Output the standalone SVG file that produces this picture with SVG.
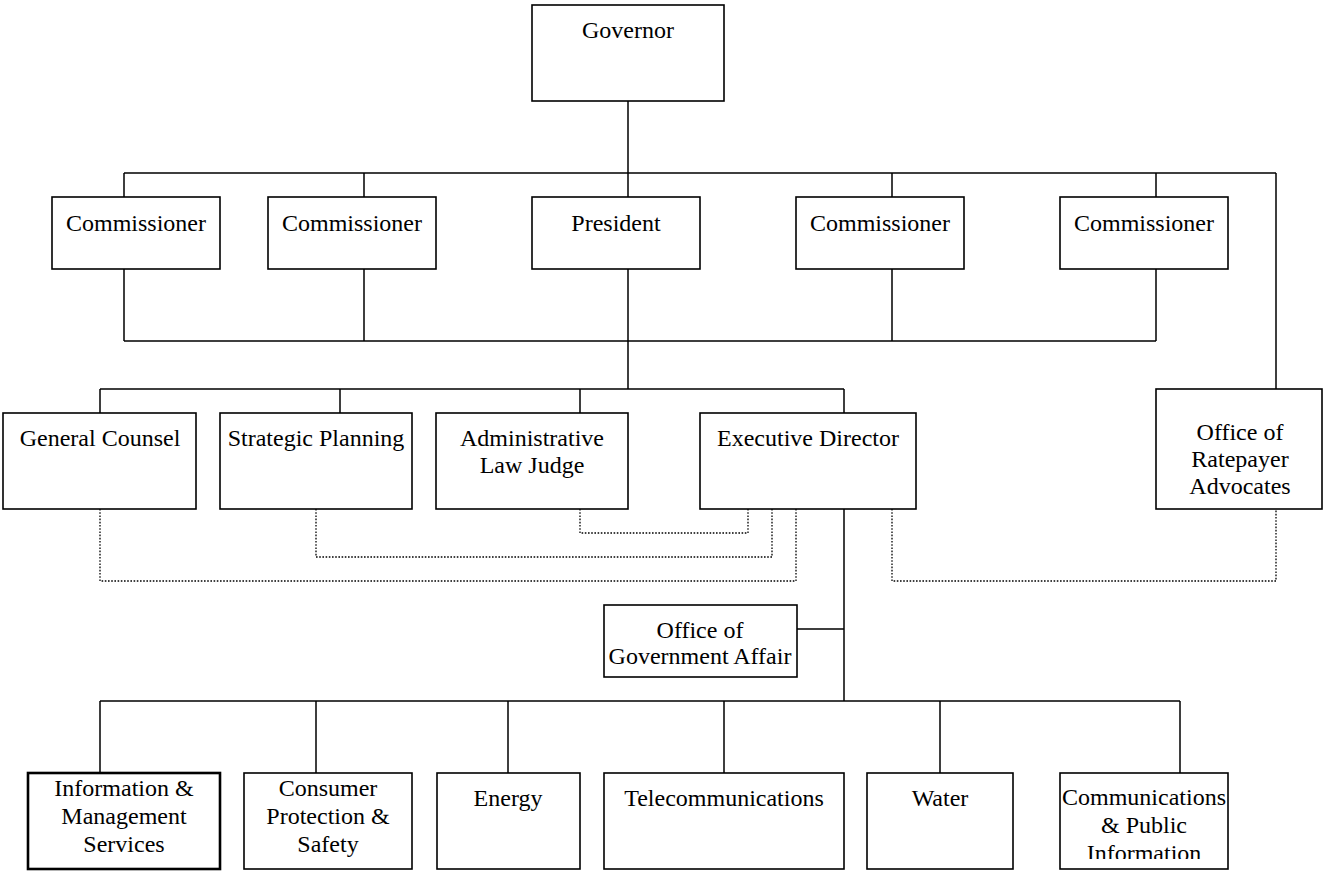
<svg xmlns="http://www.w3.org/2000/svg" width="1323" height="871" viewBox="0 0 1323 871">
<style>
  .box { fill: #fff; stroke: #000; stroke-width: 1.6; }
  .thick { stroke-width: 2.6; }
  .t { font-family: 'Liberation Serif', 'Times New Roman', 'DejaVu Serif', Times, serif; font-size: 24px; fill: #000; text-anchor: middle; }
  .ln { fill: none; stroke: #000; stroke-width: 1.5; }
  .dot { fill: none; stroke: #000; stroke-width: 1.3; stroke-dasharray: 1.6 1.6; }
</style>
<defs>
  <clipPath id="clipComm"><rect x="1060" y="773" width="168" height="86"/></clipPath>
</defs>
<rect width="1323" height="871" fill="#fff"/>
<g id="connectors">
  <path class="ln" d="M628 101V197 M124 173H1276 M124 173V197 M364 173V197 M892 173V197 M1156 173V197 M1276 173V389"/>
  <path class="ln" d="M124 269V341 M364 269V341 M892 269V341 M1156 269V341 M124 341H1156 M628 269V389"/>
  <path class="ln" d="M100 389H844 M100 389V413 M340 389V413 M580 389V413 M844 389V413"/>
  <path class="ln" d="M844 509V701 M797 629H844"/>
  <path class="ln" d="M100 701H1180 M100 701V773 M316 701V773 M508 701V773 M724 701V773 M940 701V773 M1180 701V773"/>
  <path class="dot" d="M748 509V533H580V509"/>
  <path class="dot" d="M772 509V557H316V509"/>
  <path class="dot" d="M796 509V581H100V509"/>
  <path class="dot" d="M892 509V581H1276V509"/>
</g>
<g id="governor"><rect class="box" x="532" y="5" width="192" height="96"/><text class="t" font-family="Liberation Serif, serif" x="628" y="38">Governor</text></g>
<g id="commissioner1"><rect class="box" x="52" y="197" width="168" height="72"/><text class="t" x="136" y="231">Commissioner</text></g>
<g id="commissioner2"><rect class="box" x="268" y="197" width="168" height="72"/><text class="t" x="352" y="231">Commissioner</text></g>
<g id="president"><rect class="box" x="532" y="197" width="168" height="72"/><text class="t" x="616" y="231">President</text></g>
<g id="commissioner3"><rect class="box" x="796" y="197" width="168" height="72"/><text class="t" x="880" y="231">Commissioner</text></g>
<g id="commissioner4"><rect class="box" x="1060" y="197" width="168" height="72"/><text class="t" x="1144" y="231">Commissioner</text></g>
<g id="general-counsel"><rect class="box" x="3" y="413" width="193" height="96"/><text class="t" x="100" y="446">General Counsel</text></g>
<g id="strategic-planning"><rect class="box" x="220" y="413" width="192" height="96"/><text class="t" x="316" y="446">Strategic Planning</text></g>
<g id="alj"><rect class="box" x="436" y="413" width="192" height="96"/><text class="t" x="532" y="446">Administrative</text><text class="t" x="532" y="473">Law Judge</text></g>
<g id="executive-director"><rect class="box" x="700" y="413" width="216" height="96"/><text class="t" x="808" y="446">Executive Director</text></g>
<g id="ratepayer"><rect class="box" x="1156" y="389" width="166" height="120"/><text class="t" x="1240" y="440">Office of</text><text class="t" x="1240" y="467">Ratepayer</text><text class="t" x="1240" y="494">Advocates</text></g>
<g id="gov-affair"><rect class="box" x="604" y="605" width="193" height="72"/><text class="t" x="700" y="638">Office of</text><text class="t" x="700" y="664">Government Affair</text></g>
<g id="ims"><rect class="box thick" x="28" y="773" width="192" height="96"/><text class="t" x="124" y="796">Information &amp;</text><text class="t" x="124" y="824">Management</text><text class="t" x="124" y="852">Services</text></g>
<g id="consumer"><rect class="box" x="244" y="773" width="168" height="96"/><text class="t" x="328" y="796">Consumer</text><text class="t" x="328" y="824">Protection &amp;</text><text class="t" x="328" y="852">Safety</text></g>
<g id="energy"><rect class="box" x="437" y="773" width="143" height="96"/><text class="t" x="508" y="806">Energy</text></g>
<g id="telecom"><rect class="box" x="604" y="773" width="240" height="96"/><text class="t" x="724" y="806">Telecommunications</text></g>
<g id="water"><rect class="box" x="867" y="773" width="146" height="96"/><text class="t" x="940" y="806">Water</text></g>
<g id="comm-public"><rect class="box" x="1060" y="773" width="168" height="96"/><g clip-path="url(#clipComm)"><text class="t" x="1144" y="805">Communications</text><text class="t" x="1144" y="833">&amp; Public</text><text class="t" x="1144" y="861">Information</text></g></g>
</svg>
